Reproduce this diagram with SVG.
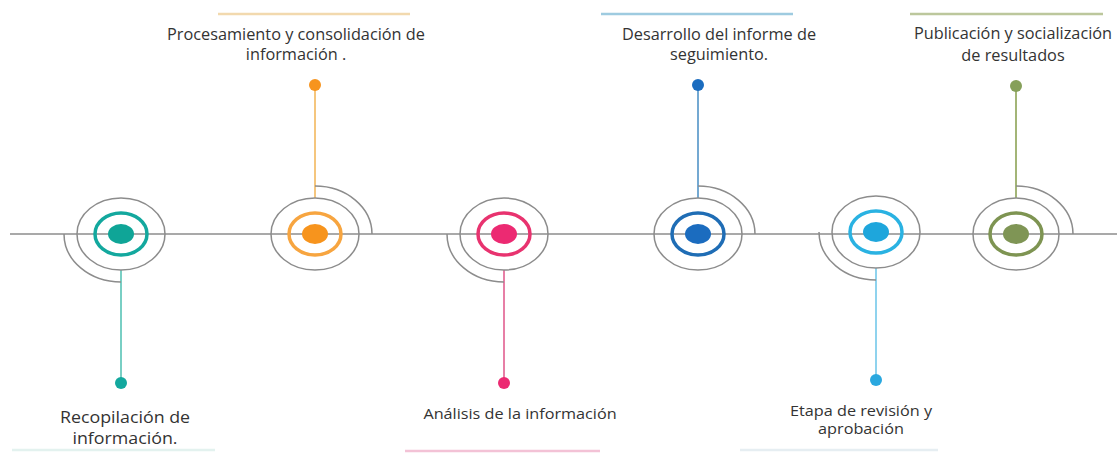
<svg xmlns="http://www.w3.org/2000/svg" width="1117" height="453" viewBox="0 0 1117 453">
<style>
.bg{fill:#ffffff}
.axis{stroke:#8c8c8c;stroke-width:1.5;fill:none}
.outer{fill:none;stroke:#8c8c8c;stroke-width:1.5}
.arc{fill:none;stroke:#8c8c8c;stroke-width:1.5}
.ring{fill:none;stroke-width:3.5}
.stem{stroke-width:2;fill:none}
.stripe{stroke-width:2.5;fill:none}
text{font-family:"Open Sans","Liberation Sans",sans-serif;fill:#333333;text-anchor:middle}
.top{font-size:16.3px}
.sm{font-size:14.5px}
.big{font-size:16.5px}
</style>
<rect class="bg" x="0" y="0" width="1117" height="453"/>

<g id="stripes">
<line class="stripe" x1="218" y1="14" x2="410" y2="14" stroke="#f2d9ae"/>
<line class="stripe" x1="601" y1="14" x2="793" y2="14" stroke="#9ecbe0"/>
<line class="stripe" x1="910" y1="14" x2="1103" y2="14" stroke="#bcc79c"/>
<line class="stripe" x1="12" y1="450" x2="215" y2="450" stroke="#e3f2ef"/>
<line class="stripe" x1="405" y1="451" x2="600" y2="451" stroke="#f3c2d6"/>
<line class="stripe" x1="740" y1="450" x2="938" y2="450" stroke="#e6eef2"/>
</g>

<g id="connectors">
<line class="axis" x1="10" y1="234" x2="1117" y2="234"/>
<line class="stem" x1="121" y1="270" x2="121" y2="383" stroke="#79cfc4"/>
<line class="stem" x1="315" y1="85" x2="315" y2="198" stroke="#f5c67e"/>
<line class="stem" x1="504" y1="270" x2="504" y2="383" stroke="#e77fa6"/>
<line class="stem" x1="698" y1="85" x2="698" y2="198" stroke="#74a9d2"/>
<line class="stem" x1="876" y1="268" x2="876" y2="380" stroke="#8fd3ee"/>
<line class="stem" x1="1016" y1="86" x2="1016" y2="198" stroke="#a3b577"/>
</g>

<g id="node1">
<path class="arc" d="M64,234 A57,48 0 0 0 121,282"/>
<ellipse class="outer" cx="121" cy="234" rx="44" ry="36"/>
<ellipse class="ring" cx="121" cy="234" rx="26" ry="21" stroke="#13a89e"/>
<ellipse cx="121" cy="234" rx="13" ry="10" fill="#0fa597"/>
<circle cx="121" cy="383" r="6" fill="#13a89e"/>
<text class="big" transform="translate(125,423) scale(1.08,1)">Recopilación de</text>
<text class="big" transform="translate(125,444) scale(1.08,1)">información.</text>
</g>

<g id="node2">
<path class="arc" d="M315,186 A57,48 0 0 1 372,234"/>
<ellipse class="outer" cx="315" cy="234" rx="44" ry="36"/>
<ellipse class="ring" cx="315" cy="234" rx="26" ry="21" stroke="#f7a540"/>
<ellipse cx="315" cy="234" rx="13" ry="10" fill="#f7941d"/>
<circle cx="315" cy="85" r="6" fill="#f7941d"/>
<text class="top" x="296" y="40">Procesamiento y consolidación de</text>
<text class="top" x="296" y="60">información .</text>
</g>

<g id="node3">
<path class="arc" d="M447,234 A57,48 0 0 0 504,282"/>
<ellipse class="outer" cx="504" cy="234" rx="44" ry="36"/>
<ellipse class="ring" cx="504" cy="234" rx="26" ry="21" stroke="#e8336f"/>
<ellipse cx="504" cy="234" rx="13" ry="10" fill="#ec2a72"/>
<circle cx="504" cy="383" r="6" fill="#ec2a72"/>
<text class="sm" transform="translate(520,419) scale(1.12,1)">Análisis de la información</text>
</g>

<g id="node4">
<path class="arc" d="M698,186 A57,48 0 0 1 755,234"/>
<ellipse class="outer" cx="698" cy="234" rx="44" ry="36"/>
<ellipse class="ring" cx="698" cy="234" rx="26" ry="21" stroke="#1f6db5"/>
<ellipse cx="698" cy="234" rx="13" ry="10" fill="#1b6cbf"/>
<circle cx="698" cy="85" r="6" fill="#1b6cbf"/>
<text class="top" x="719" y="40">Desarrollo del informe de</text>
<text class="top" x="719" y="60">seguimiento.</text>
</g>

<g id="node5">
<path class="arc" d="M819,232 A57,48 0 0 0 876,280"/>
<ellipse class="outer" cx="876" cy="232" rx="44" ry="36"/>
<ellipse class="ring" cx="876" cy="232" rx="26" ry="21" stroke="#2ab2e2"/>
<ellipse cx="876" cy="232" rx="13" ry="10" fill="#1ea6dc"/>
<circle cx="876" cy="380" r="6" fill="#2aa8df"/>
<text class="sm" transform="translate(861,416) scale(1.12,1)">Etapa de revisión y</text>
<text class="sm" transform="translate(861,434) scale(1.12,1)">aprobación</text>
</g>

<g id="node6">
<path class="arc" d="M1016,186 A57,48 0 0 1 1073,234"/>
<ellipse class="outer" cx="1016" cy="234" rx="43" ry="36" stroke="#8a9a5e"/>
<ellipse class="ring" cx="1016" cy="234" rx="26" ry="21" stroke="#7e9452"/>
<ellipse cx="1016" cy="234" rx="13" ry="10" fill="#7f9555"/>
<circle cx="1016" cy="86" r="6" fill="#86a05a"/>
<text class="top" x="1013" y="39">Publicación y socialización</text>
<text class="top" x="1013" y="61">de resultados</text>
</g>
</svg>
